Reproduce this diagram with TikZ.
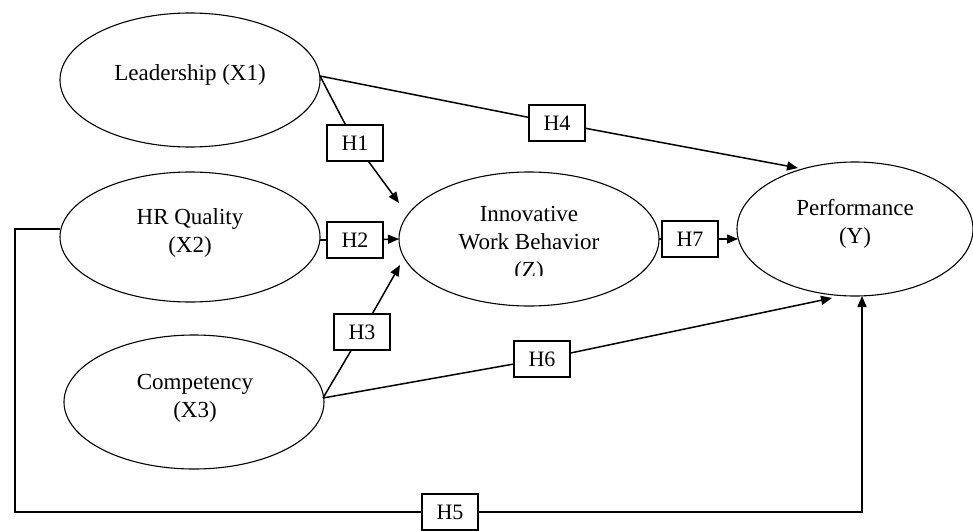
\documentclass[tikz,border=0pt]{standalone}
\usepackage{fontspec}
\setmainfont{Liberation Serif}
\usetikzlibrary{shapes.geometric,arrows.meta}
\begin{document}
\begin{tikzpicture}[x=1pt,y=-1pt,
  ell/.style={draw,ellipse,line width=1.1pt,inner sep=0pt,minimum width=260pt,minimum height=134pt},
  lbl/.style={font=\fontsize{23}{28}\selectfont,align=center,inner sep=0pt},
  hbox/.style={draw,fill=white,line width=1.1pt,minimum width=56pt,minimum height=36pt,inner sep=0pt,font=\fontsize{22}{24}\selectfont},
  conn/.style={line width=1.5pt},
  arr/.style={-{Triangle[length=11pt,width=9pt]}}]
\useasboundingbox (0,0) rectangle (973,530);
\fill[white] (0,0) rectangle (973,530);
% ellipses
\node[ell] (lead) at (190,80) {};
\node[ell,minimum height=130pt] (hr) at (190,237) {};
\node[ell] (comp) at (194,402) {};
\node[ell] (inno) at (529,239) {};
\node[ell,minimum width=236pt,minimum height=134pt] (perf) at (855,229) {};
% texts
\node[lbl] (leadt) at (190,75) {Leadership (X1)};
\node[lbl] (hrt) at (190,233) {HR Quality\\(X2)};
\node[lbl] (compt) at (195,398) {Competency\\(X3)};
\node[lbl] (perft) at (855,224) {Performance\\(Y)};
\begin{scope}
\clip (400,190) rectangle (660,275);
\node[lbl] (innot) at (529,244) {Innovative\\Work Behavior\\(Z)};
\end{scope}
% connection points
\coordinate (ls) at (320,76);
\coordinate (cs) at (323,398);
\coordinate (hs) at (320,240);
\coordinate (is) at (659,239);
\coordinate (hl) at (60,229);
\coordinate (c5) at (15,512);
\coordinate (t1) at (399,203);
\coordinate (t2) at (399,239);
\coordinate (t3) at (400,265);
\coordinate (t4) at (798,168);
\coordinate (t6) at (832,298);
\coordinate (t7) at (738,239);
\coordinate (t5) at (862,296);
% boxes
\node[hbox] (h1) at (355,143) {H1};
\node[hbox] (h2) at (355,240) {H2};
\node[hbox] (h3) at (362,332) {H3};
\node[hbox] (h4) at (557,123) {H4};
\node[hbox] (h6) at (542,359) {H6};
\node[hbox] (h7) at (690,239) {H7};
\node[hbox] (h5) at (450,512) {H5};
% connectors
\draw[conn] (ls) -- (h1);
\draw[conn,arr] (h1) -- (t1);
\draw[conn] (hs) -- (h2);
\draw[conn,arr] (h2) -- (t2);
\draw[conn] (cs) -- (h3);
\draw[conn,arr] (h3) -- (t3);
\draw[conn] (ls) -- (h4);
\draw[conn,arr] (h4) -- (t4);
\draw[conn] (cs) -- (h6);
\draw[conn,arr] (h6) -- (t6);
\draw[conn] (is) -- (h7);
\draw[conn,arr] (h7) -- (t7);
\draw[conn] (hl) -| (c5) -- (h5);
\draw[conn,arr] (h5) -| (t5);
\end{tikzpicture}
\end{document}
